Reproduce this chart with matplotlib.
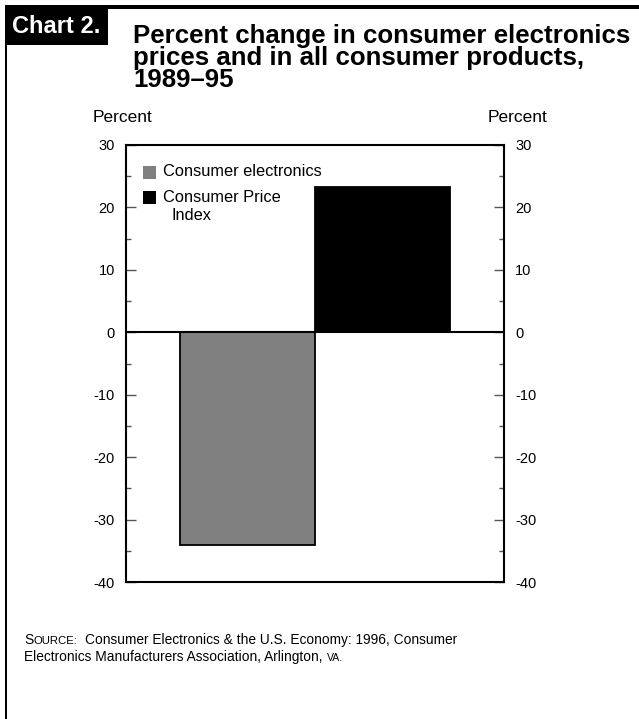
import matplotlib.pyplot as plt
from matplotlib.patches import Rectangle
from matplotlib.ticker import MultipleLocator

plt.rcParams['font.family'] = ['Liberation Sans', 'DejaVu Sans']
plt.rcParams['axes.unicode_minus'] = False

# data
series = ["Consumer electronics", "Consumer Price", "Index"]
values = [-34, 23.2]
colors = ["#808080", "#000000"]
yticks = [-40, -30, -20, -10, 0, 10, 20, 30]

W, H = 639, 719
fig = plt.figure(figsize=(W / 100, H / 100), dpi=100)


def fx(px):
    return px / W


def fy(py):
    return 1 - py / H


# frame: top rule, left rule, black label box
fig.add_artist(Rectangle((fx(5), fy(9)), fx(634), 4 / H,
                         transform=fig.transFigure, color="black", lw=0))
fig.add_artist(Rectangle((fx(5), 0), fx(2), fy(5),
                         transform=fig.transFigure, color="black", lw=0))
fig.add_artist(Rectangle((fx(5), fy(45)), fx(103), 40 / H,
                         transform=fig.transFigure, color="black", lw=0))
fig.text(fx(12), fy(33), "Chart 2.", color="white", fontsize=17,
         fontweight="bold", va="baseline", ha="left")

title_lines = ["Percent change in consumer electronics",
               "prices and in all consumer products,",
               "1989\u201395"]
for i, line in enumerate(title_lines):
    fig.text(fx(133), fy(43 + 22 * i), line, fontsize=18.6,
             fontweight="bold", va="baseline", ha="left")

ax = fig.add_axes([fx(126), fy(582), 378 / W, 437 / H])
ax.bar([0, 1], values, width=1, color=colors, edgecolor="black",
       linewidth=1.3, zorder=2)
ax.axhline(0, color="black", lw=1.5, zorder=3)
ax.set_xlim(-0.9, 1.9)
ax.set_ylim(-40, 30)
ax.set_xticks([])
ax.set_yticks(yticks)
ax.yaxis.set_minor_locator(MultipleLocator(5))
ax.tick_params(axis="y", which="both", direction="in", left=True, right=True,
               labelleft=True, labelright=True, labelsize=10.5, colors="black")
ax.tick_params(axis="y", which="major", length=7, width=1, color="#555555", pad=8)
ax.tick_params(axis="y", which="minor", length=3.5, width=1, color="#555555")
for s in ax.spines.values():
    s.set_linewidth(1.5)

ax.text(-0.008, 1.062, "Percent", transform=ax.transAxes, fontsize=12.5,
        ha="center", va="center")
ax.text(1.037, 1.062, "Percent", transform=ax.transAxes, fontsize=12.5,
        ha="center", va="center")


# legend drawn by hand (axes fraction from pixel positions)
def axx(px):
    return (px - 126) / 378


def axy(py):
    return (582 - py) / 437


for c, top in zip(colors, [166, 191]):
    ax.add_patch(Rectangle((axx(143), axy(top + 13)), 13 / 378, 13 / 437,
                           transform=ax.transAxes, color=c, lw=0, zorder=4))
ax.text(axx(163), axy(171), series[0], transform=ax.transAxes, fontsize=11.8,
        va="center", ha="left")
ax.text(axx(163), axy(198), series[1], transform=ax.transAxes, fontsize=11.8,
        va="center", ha="left")
ax.text(axx(172), axy(216), series[2], transform=ax.transAxes, fontsize=11.8,
        va="center", ha="left")

# source note with small caps
renderer = fig.canvas.get_renderer()


def runs(x0, base, parts):
    x = x0
    for s, size, gap in parts:
        x += gap
        t = fig.text(fx(x), fy(base), s, fontsize=size, va="baseline", ha="left")
        x += t.get_window_extent(renderer=renderer).width


runs(24, 644, [("S", 9.9, 0), ("OURCE:", 8.2, 0.5),
               ("Consumer Electronics & the U.S. Economy: 1996, Consumer", 9.9, 7)])
runs(24, 661, [("Electronics Manufacturers Association, Arlington,", 9.9, 0),
               ("VA.", 7.6, 4)])

fig.savefig("out.png", dpi=100)
